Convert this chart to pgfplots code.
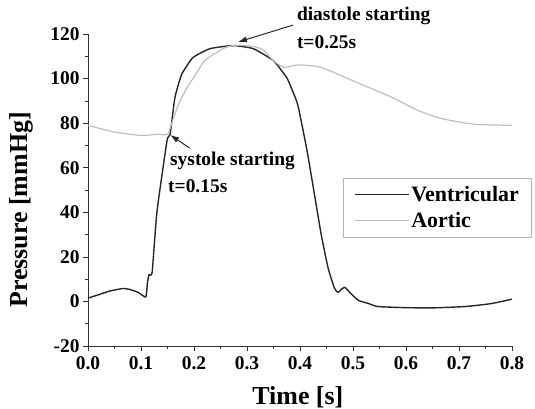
\documentclass[border=0pt]{standalone}
\usepackage{fontspec}
\setmainfont{Liberation Serif}
\usepackage{pgfplots}
\pgfplotsset{compat=1.18}
\usetikzlibrary{arrows.meta}
\definecolor{aortic}{HTML}{BEBEBE}
\begin{document}
\begin{tikzpicture}
\useasboundingbox (-88bp,-63bp) rectangle (447bp,346bp);
\begin{axis}[
  scale only axis,
  width=424bp, height=312bp,
  xmin=0, xmax=0.8, ymin=-20, ymax=120,
  axis x line*=bottom, axis y line*=left,
  axis line style={line width=0.8pt, black!80},
  xtick={0,0.1,...,0.8}, ytick={-20,0,...,120},
  minor x tick num=1, minor y tick num=1,
  tick align=outside,
  major tick length=5bp, minor tick length=3bp,
  tick style={line width=0.7pt, black!80},
  /pgf/number format/assume math mode=true,
  x tick label style={/pgf/number format/fixed, /pgf/number format/fixed zerofill, /pgf/number format/precision=1, yshift=-2bp},
  ticklabel style={font=\fontsize{19.5}{21}\selectfont\bfseries},
  clip=false,
  every axis x label/.style={at={(axis description cs:0.495,0)}, anchor=center, yshift=-51bp},
  every axis y label/.style={at={(axis description cs:-0.156,0.436)}, anchor=center, rotate=90},
  label style={font=\fontsize{26}{28}\selectfont\bfseries},
  xlabel={Time [s]},
  ylabel={Pressure [mmHg]},
  legend style={at={(axis description cs:0.601,0.538)}, anchor=north west,
    draw=black!30, line width=0.8pt, font=\fontsize{22}{24}\selectfont\bfseries,
    inner xsep=11bp, inner ysep=6bp, row sep=5bp},
  legend cell align=left,
  legend image code/.code={\draw[#1, line width=1.2pt] (0cm,0cm) -- (1.9cm,0cm);},
]
\addplot[black!85, line width=1.4pt, smooth, tension=0.3] coordinates {
(0,1.5) (0.02,3) (0.04,4.6) (0.066,5.8) (0.08,5.3) (0.095,4) (0.109,2)
(0.112,8) (0.115,12) (0.121,13) (0.13,40) (0.149,72) (0.155,75)
(0.164,91.5) (0.177,102) (0.198,109.4) (0.23,113.4) (0.274,114.8)
(0.312,113.4) (0.35,108) (0.375,100.4) (0.385,95) (0.396,88) (0.413,68)
(0.428,47) (0.44,30) (0.453,15) (0.465,6) (0.472,4) (0.478,5.5) (0.485,6.3)
(0.494,4) (0.51,0.5) (0.53,-1) (0.547,-2.3) (0.6,-2.8) (0.65,-2.9)
(0.711,-2.3) (0.76,-1) (0.8,1)
};
\addlegendentry{Ventricular}
\addplot[aortic, line width=1.2pt, smooth, tension=0.4] coordinates {
(0,79) (0.05,76) (0.1,74.5) (0.13,75) (0.15,75) (0.158,80) (0.17,88)
(0.187,96) (0.198,100) (0.22,108) (0.243,111.7) (0.26,114) (0.28,115)
(0.31,114.5) (0.33,113) (0.35,108) (0.37,105) (0.39,106) (0.41,106)
(0.44,105) (0.5,99) (0.574,91.5) (0.62,86) (0.66,82.5) (0.7,80.5)
(0.736,79.4) (0.8,79)
};
\addlegendentry{Aortic}
\node[anchor=base west, inner sep=0pt, font=\fontsize{19.5}{21}\selectfont\bfseries] at (axis cs:0.394,126.1) {diastole starting};
\node[anchor=base west, inner sep=0pt, font=\fontsize{19.5}{21}\selectfont\bfseries] at (axis cs:0.394,113.6) {t=0.25s};
\node[anchor=base west, inner sep=0pt, font=\fontsize{19.5}{21}\selectfont\bfseries] at (axis cs:0.1547,61.2) {systole starting};
\node[anchor=base west, inner sep=0pt, font=\fontsize{19.5}{21}\selectfont\bfseries] at (axis cs:0.151,49.1) {t=0.15s};
\draw[-{Latex[length=9bp,width=6bp]}, line width=1pt, black!85] (axis cs:0.387,124) -- (axis cs:0.283,116.4);
\draw[-{Latex[length=9bp,width=6bp]}, line width=1pt, black!85] (axis cs:0.192,68.8) -- (axis cs:0.155,74.7);
\end{axis}
\end{tikzpicture}
\end{document}
